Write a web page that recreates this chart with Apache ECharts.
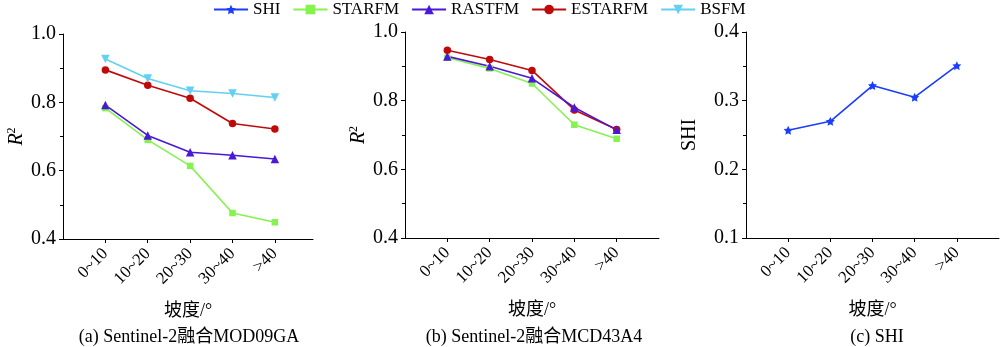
<!DOCTYPE html>
<html><head><meta charset="utf-8">
<script src="https://cdn.jsdelivr.net/npm/echarts@6/dist/echarts.min.js"></script>
<style>html,body{margin:0;padding:0;background:#fff}#c{width:1000px;height:347px}</style>
</head><body><div id="c"></div>
<script>
const categories = ['0~10', '10~20', '20~30', '30~40', '>40'];
// Panel (a) Sentinel-2 + MOD09GA
const a_STARFM = [0.783, 0.690, 0.614, 0.476, 0.449];
const a_RASTFM = [0.792, 0.703, 0.654, 0.645, 0.634];
const a_ESTARFM = [0.895, 0.850, 0.812, 0.738, 0.722];
const a_BSFM = [0.927, 0.870, 0.834, 0.826, 0.814];
// Panel (b) Sentinel-2 + MCD43A4
const b_STARFM = [0.925, 0.894, 0.850, 0.730, 0.689];
const b_RASTFM = [0.929, 0.900, 0.865, 0.780, 0.715];
const b_ESTARFM = [0.947, 0.920, 0.888, 0.773, 0.716];
// Panel (c) SHI
const c_SHI = [0.257, 0.270, 0.322, 0.305, 0.351];
const yTicksR2 = [0.4, 0.6, 0.8, 1.0];
const yTicksSHI = [0.1, 0.2, 0.3, 0.4];
const titles = ['(a) Sentinel-2融合MOD09GA', '(b) Sentinel-2融合MCD43A4', '(c) SHI'];
const xName = '坡度/°';

const FONT = '"Liberation Serif", "Noto Sans CJK SC", serif';
const COLORS = {SHI: '#1a3dff', STARFM: '#86f24e', RASTFM: '#4a18d8', ESTARFM: '#c00a0a', BSFM: '#62d0f2'};
const STAR = 'path://M0,-10 L2.9,-4 L9.5,-3.1 L4.7,1.5 L5.9,8.1 L0,5 L-5.9,8.1 L-4.7,1.5 L-9.5,-3.1 L-2.9,-4 Z';
const SYMBOLS = {SHI: [STAR, 0, 9], STARFM: ['rect', 0, 6.5], RASTFM: ['triangle', 0, 8.5], ESTARFM: ['circle', 0, 7.5], BSFM: ['triangle', 180, 8.5]};

const toPts = arr => arr.map((v, i) => [i + 1, v]);
function mkSeries(name, arr, idx) {
  return {
    name, type: 'line', xAxisIndex: idx, yAxisIndex: idx, data: toPts(arr),
    symbol: SYMBOLS[name][0], symbolRotate: SYMBOLS[name][1], symbolSize: SYMBOLS[name][2],
    showSymbol: true,
    lineStyle: {color: COLORS[name], width: 1.6},
    itemStyle: {color: COLORS[name]},
    emphasis: {disabled: true}
  };
}
const lineAxis = {lineStyle: {color: '#000', width: 1}};
function mkX(idx, max) {
  const ticks = categories.map((c, i) => i + 1);
  return {
    type: 'value', gridIndex: idx, min: 0, max: max,
    axisLine: lineAxis, splitLine: {show: false},
    axisTick: {show: true, length: 4, lineStyle: {color: '#000'}, customValues: ticks},
    axisLabel: {customValues: ticks, rotate: 45, margin: 12, color: '#000', fontFamily: FONT, fontSize: 17,
      formatter: v => categories[Math.round(v) - 1] || ''},
    name: xName, nameLocation: 'middle', nameGap: 63,
    nameTextStyle: {color: '#000', fontFamily: FONT, fontSize: 18, verticalAlign: 'top'}
  };
}
function mkY(idx, ticks, name) {
  return {
    type: 'value', gridIndex: idx, min: ticks[0], max: ticks[ticks.length - 1],
    interval: ticks[1] - ticks[0],
    axisLine: {show: true, lineStyle: {color: '#000', width: 1}}, splitLine: {show: false},
    axisTick: {show: true, length: 4, lineStyle: {color: '#000'}},
    minorTick: {show: true, splitNumber: 2, length: 3, lineStyle: {color: '#000'}},
    axisLabel: {color: '#000', fontFamily: FONT, fontSize: 20, margin: 7, formatter: v => v.toFixed(1)},
    name: name, nameLocation: 'middle', nameRotate: 90,
    nameGap: name === 'SHI' ? 46 : 34,
    nameTextStyle: {color: '#000', fontFamily: FONT, fontSize: 20,
      rich: {i: {fontStyle: 'italic', fontFamily: FONT, fontSize: 20, color: '#000'},
             s: {fontFamily: FONT, fontSize: 12, color: '#000', verticalAlign: 'top', padding: [0, 0, 10, 0]}}}
  };
}
const r2Name = '{i|R}{s|2}';

const chart = echarts.init(document.getElementById('c'), null, {renderer: 'canvas'});
chart.setOption({
  animation: false,
  backgroundColor: '#fff',
  legend: {
    data: ['SHI', 'STARFM', 'RASTFM', 'ESTARFM', 'BSFM'],
    left: 213, top: 1, padding: 0, itemWidth: 34, itemHeight: 12, itemGap: 12,
    textStyle: {color: '#000', fontFamily: FONT, fontSize: 17}
  },
  title: titles.map((t, i) => ({
    text: t, left: [184, 529, 872][i], top: 323, textAlign: 'center',
    textStyle: {color: '#000', fontFamily: FONT, fontSize: 18, fontWeight: 'normal'}
  })),
  grid: [
    {left: 63, top: 34, width: 250, height: 205},
    {left: 405, top: 32, width: 254, height: 206},
    {left: 746, top: 32, width: 253, height: 206}
  ],
  xAxis: [mkX(0, 5.9), mkX(1, 6), mkX(2, 6)],
  yAxis: [mkY(0, yTicksR2, r2Name), mkY(1, yTicksR2, r2Name), mkY(2, yTicksSHI, 'SHI')],
  series: [
    mkSeries('STARFM', a_STARFM, 0),
    mkSeries('RASTFM', a_RASTFM, 0),
    mkSeries('ESTARFM', a_ESTARFM, 0),
    mkSeries('BSFM', a_BSFM, 0),
    mkSeries('STARFM', b_STARFM, 1),
    mkSeries('ESTARFM', b_ESTARFM, 1),
    mkSeries('RASTFM', b_RASTFM, 1),
    mkSeries('SHI', c_SHI, 2)
  ]
});
</script></body></html>
